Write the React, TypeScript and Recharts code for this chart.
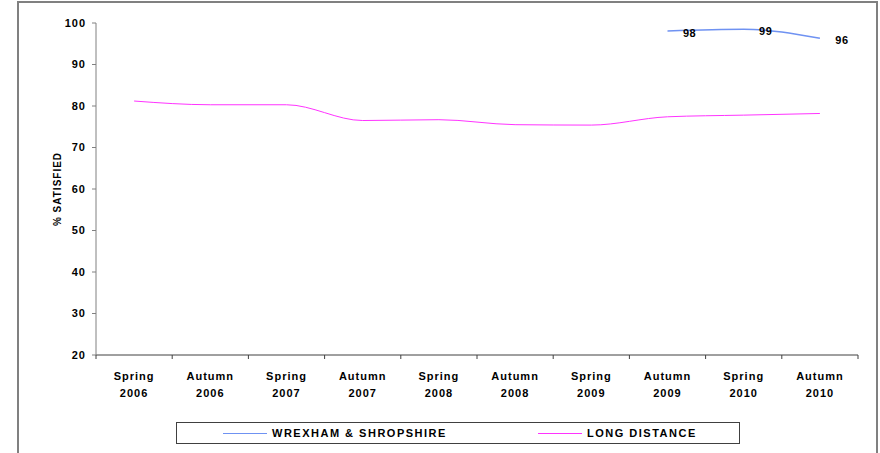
import React from "react";
import { LineChart, Line, XAxis, YAxis, LabelList } from "recharts";

const seasons = ["Spring", "Autumn", "Spring", "Autumn", "Spring", "Autumn", "Spring", "Autumn", "Spring", "Autumn"];
const years = ["2006", "2006", "2007", "2007", "2008", "2008", "2009", "2009", "2010", "2010"];
const wrexham: (number | null)[] = [null, null, null, null, null, null, null, 98.1, 98.5, 96.3];
const longDistance = [81.2, 80.3, 80.3, 76.5, 76.7, 75.5, 75.4, 77.4, 77.8, 78.2];
const yTicks = [20, 30, 40, 50, 60, 70, 80, 90, 100];
const seriesNames = ["WREXHAM & SHROPSHIRE", "LONG DISTANCE"];
const seriesColors = ["#6f92f2", "#ff33ff"];

const data = seasons.map((s, i) => ({
  cat: s + " " + years[i],
  season: s,
  year: years[i],
  wrexham: wrexham[i],
  long: longDistance[i],
}));

const FONT = "'Liberation Sans', Arial, sans-serif";
const PLOT_W = 762;
const BAND = PLOT_W / seasons.length;

const XTick = (props: any) => {
  const { x, y, payload, index } = props;
  const i = payload.index ?? index;
  const d = data[i];
  const left = x - BAND / 2;
  return (
    <g>
      <line x1={left} y1={y} x2={left} y2={y + 4} stroke="#404040" strokeWidth={1} />
      {i === data.length - 1 && (
        <line x1={x + BAND / 2} y1={y} x2={x + BAND / 2} y2={y + 4} stroke="#404040" strokeWidth={1} />
      )}
      <text
        x={x}
        y={y + 25}
        textAnchor="middle"
        fontFamily={FONT}
        fontWeight="bold"
        fontSize={11}
        letterSpacing={1}
        fill="#000"
      >
        {d ? d.season : ""}
      </text>
      <text
        x={x}
        y={y + 42}
        textAnchor="middle"
        fontFamily={FONT}
        fontWeight="bold"
        fontSize={11}
        letterSpacing={1}
        fill="#000"
      >
        {d ? d.year : ""}
      </text>
    </g>
  );
};

const ValueLabel = (props: any) => {
  const { x, y, value } = props;
  if (value == null) return null;
  return (
    <text
      x={x + 22}
      y={y + 6}
      textAnchor="middle"
      fontFamily={FONT}
      fontWeight="bold"
      fontSize={11}
      letterSpacing={0.5}
      fill="#000"
    >
      {Math.round(value)}
    </text>
  );
};

export default function App() {
  return (
    <div style={{ position: "absolute", left: 0, top: 0, width: 880, height: 453, background: "#fff", overflow: "hidden" }}>
      <div
        style={{
          position: "absolute",
          left: 17,
          top: 1,
          width: 857,
          height: 460,
          borderLeft: "2px solid #808080",
          borderTop: "2px solid #808080",
          borderRight: "2px solid #808080",
        }}
      />
      <LineChart
        width={880}
        height={453}
        data={data}
        margin={{ top: 23, right: 22, bottom: 0, left: 20 }}
        style={{ position: "absolute", left: 0, top: 0 }}
      >
        <XAxis
          dataKey="cat"
          height={98}
          interval={0}
          tickSize={0}
          tickMargin={0}
          padding={{ left: BAND / 2, right: BAND / 2 }}
          tick={<XTick />}
          axisLine={{ stroke: "#404040", strokeWidth: 1 }}
        />
        <YAxis
          width={76}
          domain={[20, 100]}
          ticks={yTicks}
          interval={0}
          tickSize={4}
          tickMargin={6}
          tickLine={{ stroke: "#808080" }}
          axisLine={{ stroke: "#808080", strokeWidth: 1 }}
          tick={{ fontFamily: FONT, fontWeight: "bold", fontSize: 11, fill: "#000", letterSpacing: 1 }}
          label={{
            value: "% SATISFIED",
            angle: -90,
            position: "insideLeft",
            offset: 37,
            style: {
              fontFamily: FONT,
              fontWeight: "bold",
              fontSize: 10,
              fill: "#000",
              letterSpacing: 1,
              textAnchor: "middle",
            },
          }}
        />
        <Line
          type="monotone"
          dataKey="long"
          stroke={seriesColors[1]}
          strokeWidth={1}
          dot={false}
          activeDot={false}
          isAnimationActive={false}
        />
        <Line
          type="monotone"
          dataKey="wrexham"
          stroke={seriesColors[0]}
          strokeWidth={1.5}
          dot={false}
          activeDot={false}
          isAnimationActive={false}
        >
          <LabelList dataKey="wrexham" content={<ValueLabel />} />
        </Line>
      </LineChart>
      <div
        style={{
          position: "absolute",
          left: 176,
          top: 422,
          width: 564,
          height: 22,
          border: "1px solid #404040",
          boxSizing: "border-box",
          fontFamily: FONT,
          fontWeight: "bold",
          fontSize: 11,
          letterSpacing: 1.5,
          color: "#000",
        }}
      >
        {seriesNames.map((n, i) => (
          <div
            key={n}
            style={{
              position: "absolute",
              left: i === 0 ? 46 : 361,
              top: 0,
              height: 20,
              display: "flex",
              alignItems: "center",
              whiteSpace: "nowrap",
            }}
          >
            <span style={{ display: "inline-block", width: 44, height: 1, background: seriesColors[i], marginRight: 5 }} />
            <span>{n}</span>
          </div>
        ))}
      </div>
    </div>
  );
}
